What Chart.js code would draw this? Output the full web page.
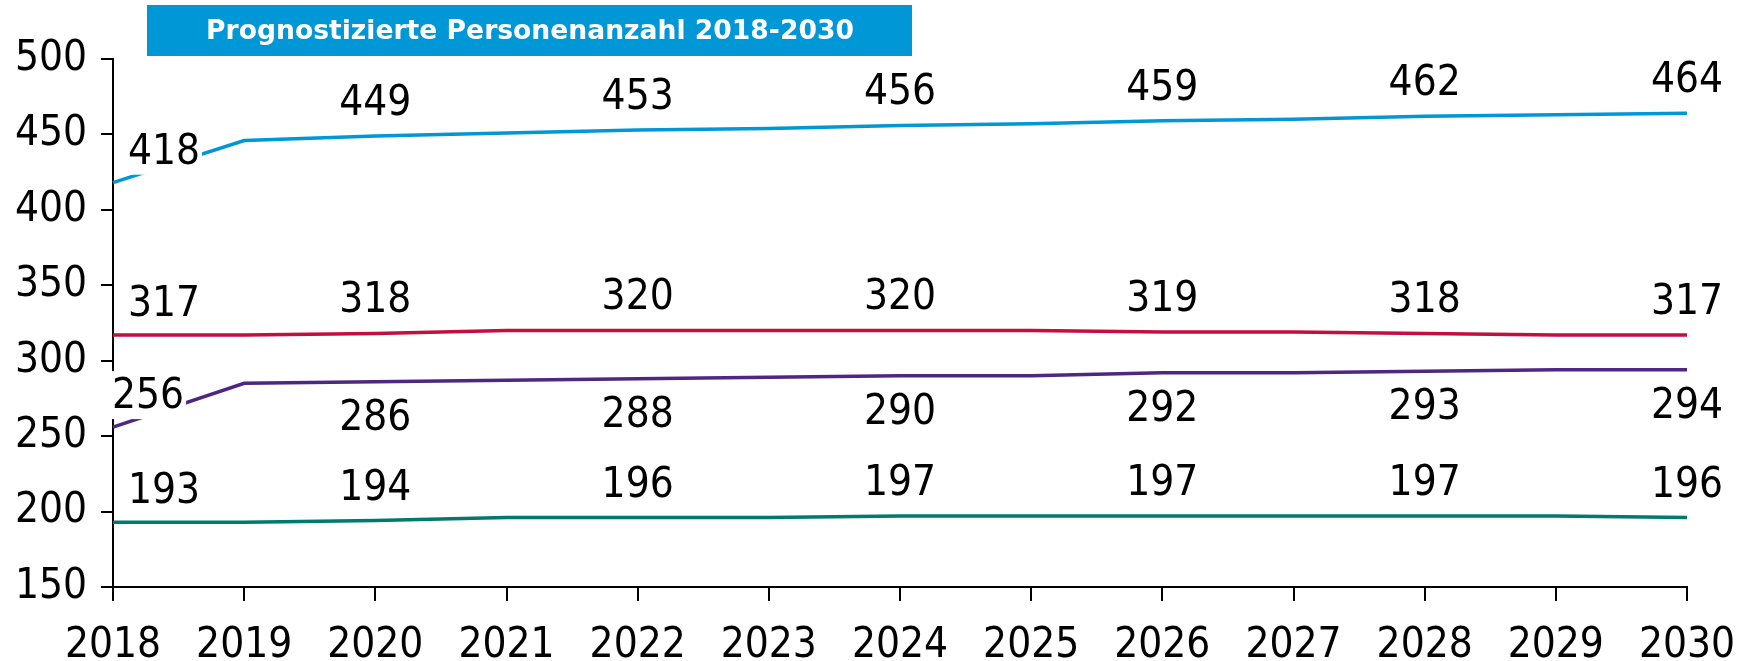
<!DOCTYPE html>
<html>
<head>
<meta charset="utf-8">
<script src="https://cdn.jsdelivr.net/npm/chart.js@4/dist/chart.umd.min.js"></script>
<style>
  html, body { margin: 0; padding: 0; background: #fff; }
  #wrap { width: 1748px; height: 661px; position: relative; }
</style>
</head>
<body>
<div id="wrap"><canvas id="chart"></canvas></div>
<script>
// Jahre und Werte (Personen)
const years = ["2018", "2019", "2020", "2021", "2022", "2023", "2024", "2025", "2026", "2027", "2028", "2029", "2030"];
const blueVals   = [418, 446, 449, 451, 453, 454, 456, 457, 459, 460, 462, 463, 464];
const redVals    = [317, 317, 318, 320, 320, 320, 320, 320, 319, 319, 318, 317, 317];
const purpleVals = [256, 285, 286, 287, 288, 289, 290, 290, 292, 292, 293, 294, 294];
const greenVals  = [193, 193, 194, 196, 196, 196, 197, 197, 197, 197, 197, 197, 196];
const yTicks = [150, 200, 250, 300, 350, 400, 450, 500];
const titleText = "Prognostizierte Personenanzahl 2018-2030";

const FONT = "'DejaVu Sans Condensed', 'DejaVu Sans', Verdana, sans-serif";
const TITLE_FONT = "'DejaVu Sans', Verdana, sans-serif";

function makeDataset(label, data, color, pos) {
    return {
        label: label,
        data: data,
        borderColor: color,
        borderWidth: 3.5,
        pointRadius: 0,
        tension: 0,
        fill: false,
        labelPos: pos
    };
}

// Beschriftung jedes zweiten Jahres, mit weissem Hintergrund
const valueLabels = {
    id: "valueLabels",
    afterDraw(chart) {
        const ctx = chart.ctx;
        ctx.save();
        ctx.font = "42px " + FONT;
        ctx.textAlign = "center";
        ctx.textBaseline = "middle";
        chart.data.datasets.forEach((ds, i) => {
            const meta = chart.getDatasetMeta(i);
            meta.data.forEach((pt, j) => {
                if (j % 2 !== 0) return;
                const txt = String(ds.data[j]);
                let x = pt.x, y = pt.y;
                let dy = ds.labelPos === "below" ? 35 : -34;
                if (j === 0) {
                    dy = -32;
                    x += ds.labelPos === "below" ? 35 : 51;
                }
                y += dy;
                const w = ctx.measureText(txt).width;
                ctx.fillStyle = "#fff";
                ctx.fillRect(x - w / 2 - 2, y - 24, w + 4, 48);
                ctx.fillStyle = "#000";
                ctx.fillText(txt, x, y + 2);
            });
        });
        ctx.restore();
    }
};

const titleBox = {
    id: "titleBox",
    afterDraw(chart) {
        const ctx = chart.ctx;
        ctx.save();
        ctx.fillStyle = "#0097D6";
        ctx.fillRect(147, 5, 765, 51);
        ctx.fillStyle = "#fff";
        ctx.font = "bold 20px " + TITLE_FONT;
        const w20 = ctx.measureText(titleText).width;
        const size = Math.min(30, 20 * 649 / w20);
        ctx.font = "bold " + size.toFixed(1) + "px " + TITLE_FONT;
        ctx.textAlign = "center";
        ctx.textBaseline = "middle";
        ctx.fillText(titleText, 530, 32);
        ctx.restore();
    }
};

new Chart(document.getElementById("chart").getContext("2d"), {
    type: "line",
    data: {
        labels: years,
        datasets: [
            makeDataset("Blau", blueVals, "#0097D6", "above"),
            makeDataset("Rot", redVals, "#C40E40", "above"),
            makeDataset("Lila", purpleVals, "#4E2783", "below"),
            makeDataset("Grün", greenVals, "#007A6C", "above")
        ]
    },
    options: {
        responsive: true,
        maintainAspectRatio: false,
        animation: false,
        layout: { padding: { top: 59, right: 61, left: 0, bottom: 0 } },
        plugins: { legend: { display: false }, tooltip: { enabled: false }, title: { display: false } },
        scales: {
            x: {
                offset: false,
                grid: { display: true, drawOnChartArea: false, drawTicks: true, tickLength: 14, color: "#000", lineWidth: 2 },
                border: { display: true, color: "#000", width: 2 },
                ticks: { color: "#000", font: { family: FONT, size: 42 }, padding: 20, maxRotation: 0, autoSkip: false },
                afterFit(scale) {
                    scale.height = 74;
                    scale.paddingLeft = 0;
                    scale.paddingRight = 0;
                }
            },
            y: {
                min: 150,
                max: 500,
                afterBuildTicks(scale) { scale.ticks = yTicks.map(v => ({ value: v })); },
                grid: { display: true, drawOnChartArea: false, drawTicks: true, tickLength: 12, color: "#000", lineWidth: 2 },
                border: { display: true, color: "#000", width: 2 },
                ticks: { color: "#000", font: { family: FONT, size: 42 }, padding: 14 },
                afterFit(scale) {
                    scale.width = 113;
                    scale.paddingTop = 0;
                    scale.paddingBottom = 0;
                }
            }
        }
    },
    plugins: [valueLabels, titleBox]
});
</script>
</body>
</html>
